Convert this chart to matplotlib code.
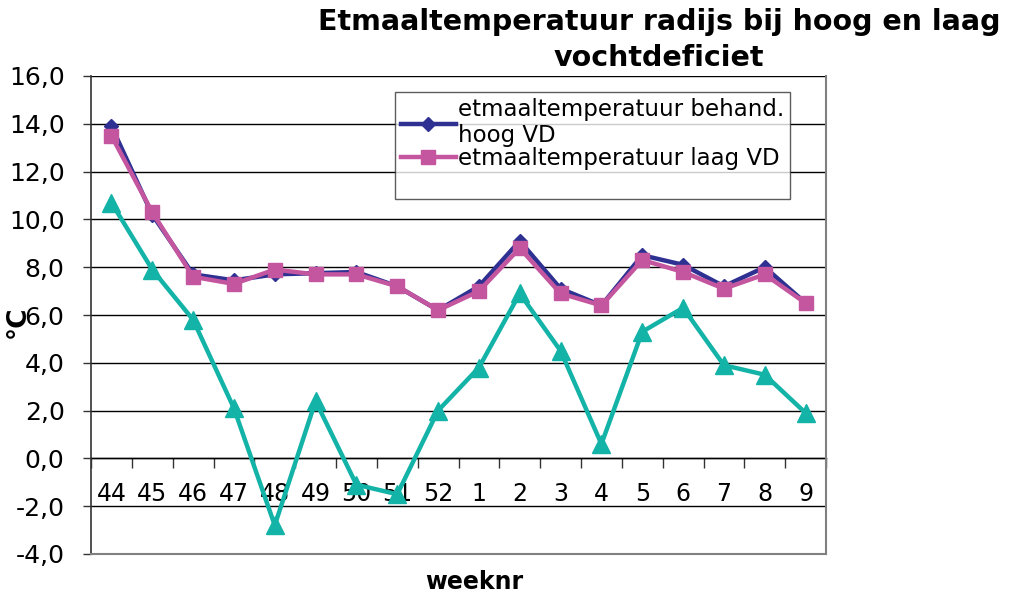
import matplotlib
matplotlib.use("Agg")
import matplotlib.pyplot as plt
from matplotlib.lines import Line2D

# data
weeks = ["44", "45", "46", "47", "48", "49", "50", "51", "52",
         "1", "2", "3", "4", "5", "6", "7", "8", "9"]
hoog_vd = [13.9, 10.2, 7.7, 7.45, 7.7, 7.75, 7.8, 7.2, 6.2,
           7.2, 9.1, 7.1, 6.4, 8.5, 8.1, 7.2, 8.0, 6.5]
laag_vd = [13.5, 10.3, 7.6, 7.3, 7.9, 7.7, 7.7, 7.2, 6.2,
           7.0, 8.8, 6.9, 6.4, 8.3, 7.8, 7.1, 7.7, 6.5]
derde = [10.7, 7.9, 5.8, 2.1, -2.8, 2.4, -1.1, -1.5, 2.0,
         3.8, 6.9, 4.5, 0.6, 5.3, 6.3, 3.9, 3.5, 1.9]
yticks = [-4, -2, 0, 2, 4, 6, 8, 10, 12, 14, 16]

c_blue = "#2E3192"
c_pink = "#C4559F"
c_teal = "#14B3A8"

fig = plt.figure(figsize=(10.13, 5.97), dpi=100)
ax = fig.add_axes([91 / 1013, 1 - 554 / 597, (826 - 91) / 1013, (554 - 76) / 597])

x = list(range(len(weeks)))
ax.plot(x, derde, color=c_teal, lw=3.2, marker="^", ms=13, zorder=3)
l1, = ax.plot(x, hoog_vd, color=c_blue, lw=3.2, marker="D", ms=7, zorder=4)
l2, = ax.plot(x, laag_vd, color=c_pink, lw=3.2, marker="s", ms=10, zorder=5)

ax.set_xlim(-0.5, len(weeks) - 0.5)
ax.set_ylim(-4, 16)
ax.set_yticks(yticks)
ax.set_yticklabels([f"{v:.1f}".replace(".", ",") for v in yticks], fontsize=18)
ax.yaxis.grid(True, color="black", lw=1)
ax.set_axisbelow(True)
ax.tick_params(axis="y", length=6, width=1, color="#333333", pad=13)
ax.set_xticks([])

for s in ["right", "bottom"]:
    ax.spines[s].set_color("#808080")
    ax.spines[s].set_linewidth(1.5)
ax.spines["top"].set_visible(False)
ax.spines["left"].set_color("#333333")
ax.spines["left"].set_linewidth(1.2)

# category axis crossing at 0
sec = ax.secondary_xaxis(0.2)
sec.set_xticks(x)
sec.set_xticklabels(weeks, fontsize=17)
sec.set_xticks([i - 0.5 for i in range(len(weeks) + 1)], minor=True)
sec.tick_params(axis="x", which="major", length=0, pad=17)
sec.tick_params(axis="x", which="minor", length=7, width=1, direction="out", color="#333333")
sec.spines["bottom"].set_color("black")
sec.spines["bottom"].set_linewidth(1)

blank = Line2D([], [], color="none")
leg = fig.legend([l1, l2, blank],
                 ["etmaaltemperatuur behand.\nhoog VD", "etmaaltemperatuur laag VD", " "],
                 loc="upper left", bbox_to_anchor=(395 / 1013, 1 - 92 / 597),
                 fontsize=16.5, frameon=True, fancybox=False, edgecolor="#333333",
                 handlelength=2.4, handletextpad=0.1, labelspacing=0.0,
                 borderpad=0.25, borderaxespad=0)
leg.get_frame().set_linewidth(1)

fig.text(659 / 1013, 1 - 8 / 597, "Etmaaltemperatuur radijs bij hoog en laag\nvochtdeficiet",
         ha="center", va="top", fontsize=20.5, fontweight="bold", linespacing=1.35)
fig.text(18 / 1013, 1 - 322 / 597, "°C", rotation=90, ha="center", va="center",
         fontsize=19, fontweight="bold")
fig.text(474 / 1013, 1 - 582 / 597, "weeknr", ha="center", va="center",
         fontsize=17, fontweight="bold")

fig.savefig("out.png", dpi=100)
